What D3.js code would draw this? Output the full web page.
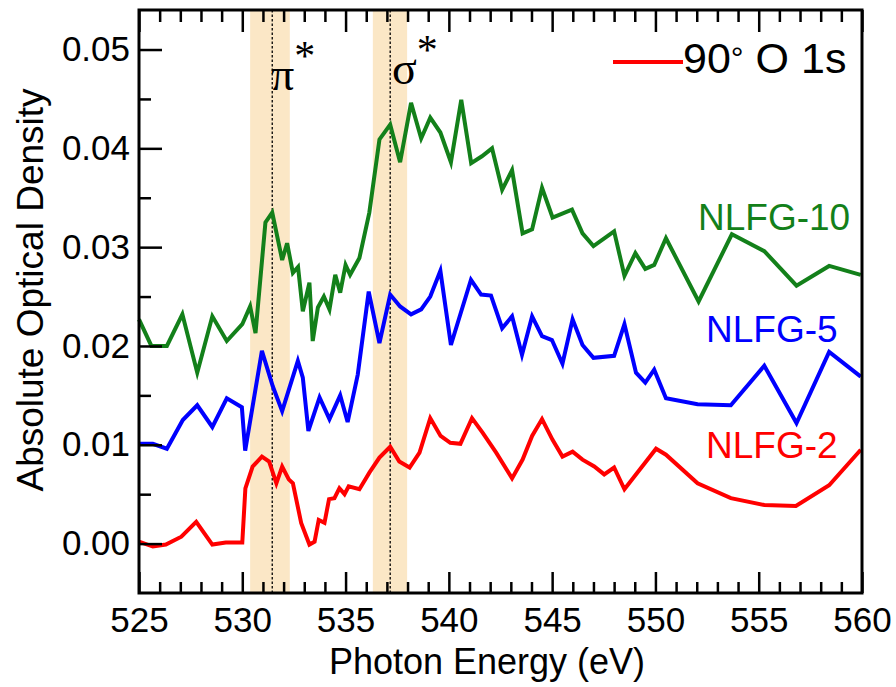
<!DOCTYPE html>
<html lang="en">
<head>
<meta charset="UTF-8">
<title>O 1s spectra</title>
<script src="https://d3js.org/d3.v7.min.js"></script>
<style>
  body { margin: 0; background: #fff; }
</style>
</head>
<body>
<div id="chart"></div>
<script>
// [photon energy (eV), absolute optical density]
const nlfg2 = [
  [525, 0.0002], [525.67, -0.0003], [526.3, -0.0001], [527.05, 0.0007], [527.77, 0.0022],
  [528.55, -0.0001], [529.2, 0.0001], [530.0, 0.0001], [530.15, 0.0056], [530.5, 0.0078],
  [530.95, 0.0088], [531.3, 0.0083], [531.65, 0.0061], [531.93, 0.0078], [532.25, 0.0065],
  [532.45, 0.0061], [532.85, 0.0021], [533.25, -0.0001], [533.5, 0.0002], [533.7, 0.0024],
  [533.98, 0.0021], [534.2, 0.0045], [534.46, 0.0046], [534.7, 0.0056], [534.95, 0.0050],
  [535.15, 0.0058], [535.67, 0.0055], [536.16, 0.0072], [536.64, 0.0087], [537.16, 0.0098],
  [537.6, 0.0083], [538.1, 0.0077], [538.58, 0.0092], [539.1, 0.0127], [539.6, 0.0109],
  [540.07, 0.0102], [540.56, 0.0101], [541.12, 0.0127], [541.64, 0.0112], [542.29, 0.0092],
  [543.06, 0.0066], [543.57, 0.0085], [544.03, 0.0109], [544.51, 0.0126], [545.02, 0.0105],
  [545.5, 0.0088], [545.99, 0.0093], [546.47, 0.0085], [547.04, 0.0078], [547.52, 0.0070],
  [548.0, 0.0077], [548.5, 0.0055], [550.03, 0.0096], [550.51, 0.0090], [552.04, 0.0061],
  [553.65, 0.0046], [555.27, 0.0039], [556.8, 0.0038], [558.41, 0.0059], [559.94, 0.0095]
];

const nlfg5 = [
  [525, 0.0101], [525.67, 0.0101], [526.35, 0.0096], [527.12, 0.0125], [527.82, 0.0140],
  [528.55, 0.0118], [529.25, 0.0147], [529.98, 0.0138], [530.14, 0.0094], [530.95, 0.0195],
  [531.48, 0.0159], [531.93, 0.0134], [532.69, 0.0185], [532.93, 0.0168], [533.2, 0.0114],
  [533.74, 0.0148], [534.22, 0.0126], [534.74, 0.0150], [535.1, 0.0123], [535.59, 0.0171],
  [536.12, 0.0255], [536.64, 0.0203], [537.16, 0.0252], [537.64, 0.0240], [538.17, 0.0232],
  [538.66, 0.0237], [539.1, 0.0250], [539.59, 0.0276], [540.1, 0.0201], [541.07, 0.0267],
  [541.56, 0.0252], [542.04, 0.0251], [542.58, 0.0218], [543.06, 0.0230], [543.54, 0.0191],
  [544.03, 0.0230], [544.51, 0.0210], [544.99, 0.0206], [545.5, 0.0182], [545.99, 0.0227],
  [546.47, 0.0201], [547.0, 0.0188], [548.0, 0.0190], [548.5, 0.0222], [549.06, 0.0173],
  [549.51, 0.0163], [549.94, 0.0176], [550.51, 0.0147], [552.04, 0.0141], [553.65, 0.0140],
  [555.27, 0.0180], [556.83, 0.0122], [558.41, 0.0194], [559.94, 0.0169]
];

const nlfg10 = [
  [525, 0.0227], [525.6, 0.0200], [526.35, 0.0200], [527.1, 0.0232], [527.82, 0.0173],
  [528.55, 0.0230], [529.25, 0.0205], [530.0, 0.0222], [530.38, 0.0240], [530.64, 0.0213],
  [531.12, 0.0325], [531.45, 0.0335], [531.93, 0.0287], [532.17, 0.0304], [532.45, 0.0274],
  [532.7, 0.0280], [532.93, 0.0235], [533.25, 0.0264], [533.41, 0.0205], [533.66, 0.0239],
  [533.95, 0.0250], [534.22, 0.0237], [534.5, 0.0272], [534.74, 0.0254], [535.0, 0.0282],
  [535.22, 0.0272], [535.67, 0.0289], [536.15, 0.0335], [536.64, 0.0409], [537.16, 0.0424],
  [537.64, 0.0386], [538.17, 0.0446], [538.66, 0.0410], [539.1, 0.0431], [539.59, 0.0416],
  [540.1, 0.0386], [540.6, 0.0449], [541.08, 0.0385], [541.6, 0.0392], [542.09, 0.0400],
  [542.58, 0.0358], [543.06, 0.0378], [543.57, 0.0314], [544.03, 0.0318], [544.51, 0.0360],
  [545.02, 0.0330], [545.96, 0.0338], [546.47, 0.0314], [547.0, 0.0301], [548.0, 0.0316],
  [548.5, 0.0271], [549.03, 0.0294], [549.51, 0.0278], [549.94, 0.0282], [550.51, 0.0309],
  [552.09, 0.0245], [553.7, 0.0313], [555.27, 0.0296], [556.83, 0.0261], [558.41, 0.0281],
  [559.94, 0.0272]
];

// resonance bands: [start, end, peak line]
const bands = [
  { label: "π", lo: 530.38, hi: 532.3, peak: 531.45 },
  { label: "σ", lo: 536.32, hi: 537.98, peak: 537.16 }
];

const series = [
  { name: "NLFG-10", data: nlfg10, color: "#13801a" },
  { name: "NLFG-5", data: nlfg5, color: "#0000ff" },
  { name: "NLFG-2", data: nlfg2, color: "#ff0000" }
];

const xMajor = [525, 530, 535, 540, 545, 550, 555, 560];
const yMajor = [0, 0.01, 0.02, 0.03, 0.04, 0.05];

const width = 896, height = 687;
const mLeft = 139, mRight = 862, mTop = 10, mBottom = 593;
const font = "Arial, 'Liberation Sans', sans-serif";

const x = d3.scaleLinear().domain([525, 560]).range([mLeft, mRight]);
const y = d3.scaleLinear().domain([-0.005, 0.054]).range([mBottom, mTop]);

const svg = d3.select("#chart").append("svg")
  .attr("width", width)
  .attr("height", height)
  .attr("font-family", font);

// shaded bands + dotted peak lines
svg.append("g").selectAll("rect")
  .data(bands)
  .join("rect")
  .attr("x", d => x(d.lo))
  .attr("width", d => x(d.hi) - x(d.lo))
  .attr("y", mTop)
  .attr("height", mBottom - mTop)
  .attr("fill", "#fbe7c6");

svg.append("g").selectAll("line")
  .data(bands)
  .join("line")
  .attr("x1", d => x(d.peak))
  .attr("x2", d => x(d.peak))
  .attr("y1", mTop)
  .attr("y2", mBottom)
  .attr("stroke", "#000")
  .attr("stroke-width", 1.3)
  .attr("stroke-dasharray", "2.5,2");

// curves
const line = d3.line().x(d => x(d[0])).y(d => y(d[1]));
svg.append("g").selectAll("path")
  .data(series)
  .join("path")
  .attr("d", d => line(d.data))
  .attr("fill", "none")
  .attr("stroke", d => d.color)
  .attr("stroke-width", 4)
  .attr("stroke-linejoin", "miter");

// axes, ticks point inward
const xMinor = d3.range(526, 560).filter(v => v % 5 !== 0);
const yMinor = d3.range(0.005, 0.054, 0.01);

function styleAxis(g) {
  g.select(".domain").remove();
  g.selectAll(".tick line").attr("stroke", "#000").attr("stroke-width", 2.5);
  g.selectAll("text").attr("fill", "#000").attr("font-size", 35).attr("font-family", font);
}

svg.append("g")
  .attr("transform", `translate(0,${mBottom})`)
  .call(d3.axisBottom(x).tickValues(xMajor).tickSize(-21).tickPadding(14).tickFormat(d3.format("d")))
  .call(styleAxis);
svg.append("g")
  .attr("transform", `translate(0,${mBottom})`)
  .call(d3.axisBottom(x).tickValues(xMinor).tickSize(-11).tickFormat(""))
  .call(styleAxis);
svg.append("g")
  .attr("transform", `translate(0,${mTop})`)
  .call(d3.axisTop(x).tickValues(xMajor).tickSize(-22).tickFormat(""))
  .call(styleAxis);
svg.append("g")
  .attr("transform", `translate(0,${mTop})`)
  .call(d3.axisTop(x).tickValues(xMinor).tickSize(-12).tickFormat(""))
  .call(styleAxis);
svg.append("g")
  .attr("transform", `translate(${mLeft},0)`)
  .call(d3.axisLeft(y).tickValues(yMajor).tickSize(-23).tickPadding(9).tickFormat(d3.format(".2f")))
  .call(styleAxis);
svg.append("g")
  .attr("transform", `translate(${mLeft},0)`)
  .call(d3.axisLeft(y).tickValues(yMinor).tickSize(-12).tickFormat(""))
  .call(styleAxis);

// frame
svg.append("rect")
  .attr("x", mLeft).attr("y", mTop)
  .attr("width", mRight - mLeft).attr("height", mBottom - mTop)
  .attr("fill", "none")
  .attr("stroke", "#000")
  .attr("stroke-width", 3);

// axis titles
svg.append("text")
  .attr("x", 487).attr("y", 674)
  .attr("text-anchor", "middle")
  .attr("font-size", 36)
  .text("Photon Energy (eV)");

svg.append("text")
  .attr("transform", "translate(43,290) rotate(-90)")
  .attr("text-anchor", "middle")
  .attr("font-size", 37)
  .text("Absolute Optical Density");

// band labels
const bandPos = [{ x: 271, y: 90 }, { x: 392, y: 84 }];
bands.forEach((b, i) => {
  const t = svg.append("text")
    .attr("x", bandPos[i].x).attr("y", bandPos[i].y)
    .attr("font-family", "'Liberation Serif', 'DejaVu Serif', serif")
    .attr("font-size", 46)
    .text(b.label);
  t.append("tspan")
    .attr("dy", -20)
    .attr("font-size", 42)
    .text("*");
});

// curve labels
const labelPos = [{ x: 698, y: 230 }, { x: 706, y: 342 }, { x: 706, y: 458 }];
svg.append("g").selectAll("text")
  .data(series)
  .join("text")
  .attr("x", (d, i) => labelPos[i].x)
  .attr("y", (d, i) => labelPos[i].y)
  .attr("font-size", 37)
  .attr("fill", d => d.color)
  .text(d => d.name);

// legend
svg.append("line")
  .attr("x1", 613).attr("x2", 683)
  .attr("y1", 62).attr("y2", 62)
  .attr("stroke", "#ff0000")
  .attr("stroke-width", 4);
const leg = svg.append("text")
  .attr("x", 683).attr("y", 73)
  .attr("font-size", 43)
  .text("90");
leg.append("tspan").attr("font-size", 32).attr("dy", -4).text("°");
leg.append("tspan").attr("dy", 4).text(" O 1s");
</script>
</body>
</html>
